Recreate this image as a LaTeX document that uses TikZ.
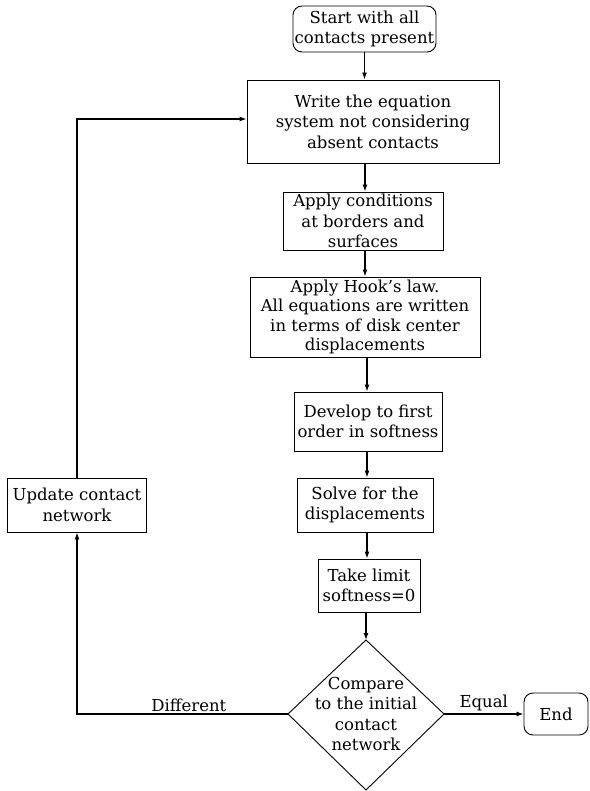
\documentclass[tikz,border=0pt]{standalone}
\usepackage{fontspec}
\setmainfont{DejaVu Serif}
\usetikzlibrary{arrows.meta}
\begin{document}
\begin{tikzpicture}[x=1pt,y=-1pt,
  every node/.style={font=\fontsize{16.5}{20.5}\selectfont},
  boxnode/.style={draw,line width=0.9pt,align=center,inner sep=0pt},
  termnode/.style={boxnode,rounded corners=9pt},
  conn/.style={line width=1.2pt,-{Latex[length=7pt,width=5pt]}},
  lbl/.style={inner sep=1pt}]
\useasboundingbox (0,0) rectangle (589,791);
\node[termnode,minimum width=143pt,minimum height=46pt] (start) at (364.5,29) {Start with all\\contacts present};
\node[boxnode,minimum width=252pt,minimum height=83pt] (write) at (373,121.5) {Write the equation\\system not considering\\absent contacts};
\node[boxnode,minimum width=160pt,minimum height=58pt] (cond) at (363,221) {Apply conditions\\at borders and\\surfaces};
\node[boxnode,minimum width=230pt,minimum height=80pt,font=\fontsize{16.5}{19.2}\selectfont] (hook) at (365,317) {Apply Hook's law.\\All equations are written\\in terms of disk center\\displacements};
\node[boxnode,minimum width=148pt,minimum height=59pt] (dev) at (368,421.5) {Develop to first\\order in softness};
\node[boxnode,minimum width=136pt,minimum height=54pt] (solve) at (365,505) {Solve for the\\displacements};
\node[boxnode,minimum width=102pt,minimum height=53pt] (limit) at (369,585.5) {Take limit\\softness=0};
\node[align=center,inner sep=0pt] (cmp) at (366,714) {Compare\\to the initial\\contact\\network};
\coordinate (cmpT) at (366,640);
\coordinate (cmpB) at (366,790);
\coordinate (cmpL) at (288,714);
\coordinate (cmpR) at (444,714);
\draw[line width=0.9pt] (cmpT) -- (cmpR) -- (cmpB) -- (cmpL) -- cycle;
\node[termnode,minimum width=64pt,minimum height=42pt] (endn) at (556,714) {End};
\node[boxnode,minimum width=139pt,minimum height=54pt] (upd) at (77,505) {Update contact\\network};
\coordinate (loop) at (77,119);

\draw[conn] (start.south) -- (start.south |- write.north);
\draw[conn] (write.south -| 365,0) -- (cond.north -| 365,0);
\draw[conn] (cond.south -| 365,0) -- (hook.north -| 365,0);
\draw[conn] (hook.south -| 367,0) -- (dev.north -| 367,0);
\draw[conn] (dev.south -| 367,0) -- (solve.north -| 367,0);
\draw[conn] (solve.south -| 367,0) -- (limit.north -| 367,0);
\draw[conn] (limit.south -| 366,0) -- (cmpT);
\draw[conn] (cmpR) -- node[lbl,above=1pt] {Equal} (endn.west);
\draw[conn] (cmpL) -- node[lbl,above=1pt,pos=0.47] {Different} (cmpL -| upd.south) -- (upd.south);
\draw[conn] (upd.north) -- (loop) -- (loop -| write.west);
\end{tikzpicture}
\end{document}
